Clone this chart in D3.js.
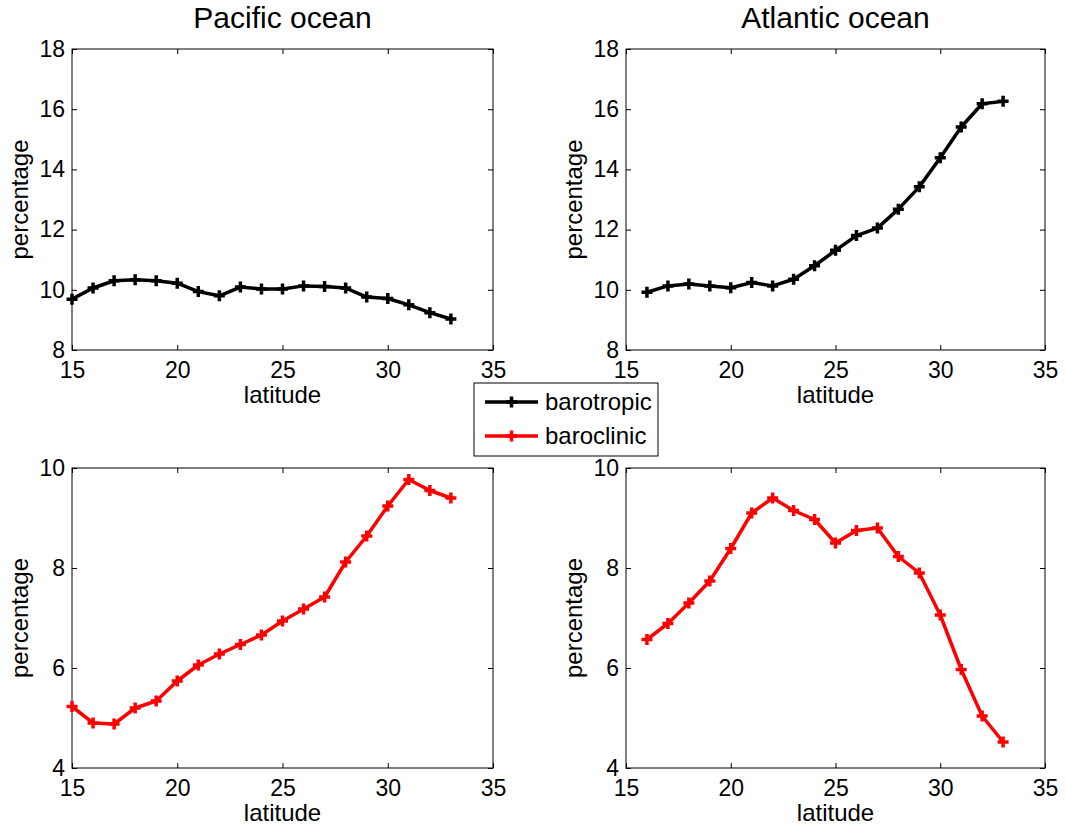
<!DOCTYPE html>
<html><head><meta charset="utf-8">
<script src="https://cdn.jsdelivr.net/npm/d3@7"></script>
<style>body{margin:0;background:#fff}svg{display:block;font-family:Arial,"Liberation Sans",Helvetica,sans-serif}</style>
</head><body><svg id="c" width="1066" height="828"></svg>
<script>
const latPacific = [15,16,17,18,19,20,21,22,23,24,25,26,27,28,29,30,31,32,33];
const latAtlantic = [16,17,18,19,20,21,22,23,24,25,26,27,28,29,30,31,32,33];
const pacificBarotropic = [9.69,10.06,10.30,10.33,10.30,10.22,9.94,9.80,10.09,10.03,10.03,10.13,10.11,10.06,9.76,9.71,9.50,9.24,9.03];
const atlanticBarotropic = [9.92,10.13,10.19,10.13,10.07,10.24,10.13,10.35,10.80,11.31,11.80,12.05,12.68,13.42,14.39,15.41,16.18,16.26];
const pacificBaroclinic = [5.23,4.90,4.88,5.20,5.34,5.74,6.06,6.28,6.47,6.66,6.94,7.18,7.42,8.12,8.64,9.24,9.77,9.55,9.40];
const atlanticBaroclinic = [6.57,6.89,7.30,7.74,8.39,9.10,9.40,9.15,8.97,8.50,8.75,8.80,8.23,7.90,7.06,5.97,5.04,4.52];
const xTicks = [15,20,25,30,35];
const yTicksTop = [8,10,12,14,16,18];
const yTicksBottom = [4,6,8,10];
const titles = ["Pacific ocean","Atlantic ocean"];
const seriesNames = ["barotropic","baroclinic"];
const seriesColors = ["#000000","#ff0000"];

const svg = d3.select("#c");
const FS = 23, LFS = 24;

const panels = [
  {x0:72,x1:493,y0:49,y1:350,lat:latPacific,vals:pacificBarotropic,yd:[8,18],yt:yTicksTop,col:0,title:titles[0]},
  {x0:626,x1:1045,y0:49,y1:350,lat:latAtlantic,vals:atlanticBarotropic,yd:[8,18],yt:yTicksTop,col:0,title:titles[1]},
  {x0:72,x1:493,y0:468,y1:768,lat:latPacific,vals:pacificBaroclinic,yd:[4,10],yt:yTicksBottom,col:1},
  {x0:626,x1:1045,y0:468,y1:768,lat:latAtlantic,vals:atlanticBaroclinic,yd:[4,10],yt:yTicksBottom,col:1}
];

function plusPath(s){return `M${-s},0H${s}M0,${-s}V${s}`;}

panels.forEach(p=>{
  const x = d3.scaleLinear().domain([15,35]).range([p.x0,p.x1]);
  const y = d3.scaleLinear().domain(p.yd).range([p.y1,p.y0]);
  const g = svg.append("g");
  g.append("rect").attr("x",p.x0).attr("y",p.y0).attr("width",p.x1-p.x0).attr("height",p.y1-p.y0)
    .attr("fill","none").attr("stroke","#000").attr("stroke-width",1);
  const tl = 5;
  const fmt = d3.format("d");
  const axB = d3.axisBottom(x).tickValues(xTicks).tickSizeInner(-tl).tickSizeOuter(0).tickPadding(12).tickFormat(fmt);
  const axT = d3.axisTop(x).tickValues(xTicks).tickSizeInner(-tl).tickSizeOuter(0).tickFormat("");
  const axL = d3.axisLeft(y).tickValues(p.yt).tickSizeInner(-tl).tickSizeOuter(0).tickPadding(7).tickFormat(fmt);
  const axR = d3.axisRight(y).tickValues(p.yt).tickSizeInner(-tl).tickSizeOuter(0).tickFormat("");
  [[axB,`translate(0,${p.y1})`],[axT,`translate(0,${p.y0})`],[axL,`translate(${p.x0},0)`],[axR,`translate(${p.x1},0)`]].forEach(([a,t])=>{
    const ag = g.append("g").attr("transform",t).call(a);
    ag.select(".domain").remove();
    ag.attr("font-size",FS).attr("font-family",null);
    ag.selectAll("line").attr("stroke","#000");
    ag.selectAll("text").attr("fill","#000");
  });
  g.append("text").attr("x",(p.x0+p.x1)/2).attr("y",p.y1+53).attr("text-anchor","middle")
    .attr("font-size",LFS).text("latitude");
  g.append("text").attr("transform",`translate(${p.x0-44},${(p.y0+p.y1)/2}) rotate(-90)`)
    .attr("text-anchor","middle").attr("font-size",LFS).text("percentage");
  if(p.title){
    g.append("text").attr("x",(p.x0+p.x1)/2).attr("y",p.y0-21).attr("text-anchor","middle")
      .attr("font-size",30).text(p.title);
  }
  const line = d3.line().x((d,i)=>x(p.lat[i])).y(d=>y(d));
  g.append("path").datum(p.vals).attr("d",line).attr("fill","none")
    .attr("stroke",seriesColors[p.col]).attr("stroke-width",3.5).attr("stroke-linejoin","round");
  g.selectAll(".m").data(p.vals).enter().append("path")
    .attr("transform",(d,i)=>`translate(${x(p.lat[i])},${y(d)})`)
    .attr("d",plusPath(5.5)).attr("stroke",seriesColors[p.col]).attr("stroke-width",3.5).attr("fill","none");
});

const lg = svg.append("g");
lg.append("rect").attr("x",474).attr("y",383).attr("width",184).attr("height",73)
  .attr("fill","#fff").attr("stroke","#000").attr("stroke-width",1);
seriesNames.forEach((n,i)=>{
  const yy = 402 + i*34;
  lg.append("line").attr("x1",485).attr("x2",538).attr("y1",yy).attr("y2",yy)
    .attr("stroke",seriesColors[i]).attr("stroke-width",3.5);
  lg.append("path").attr("transform",`translate(511.5,${yy})`).attr("d",plusPath(5.5))
    .attr("stroke",seriesColors[i]).attr("stroke-width",3.5);
  lg.append("text").attr("x",545).attr("y",yy+8).attr("font-size",LFS).text(n);
});
</script></body></html>
